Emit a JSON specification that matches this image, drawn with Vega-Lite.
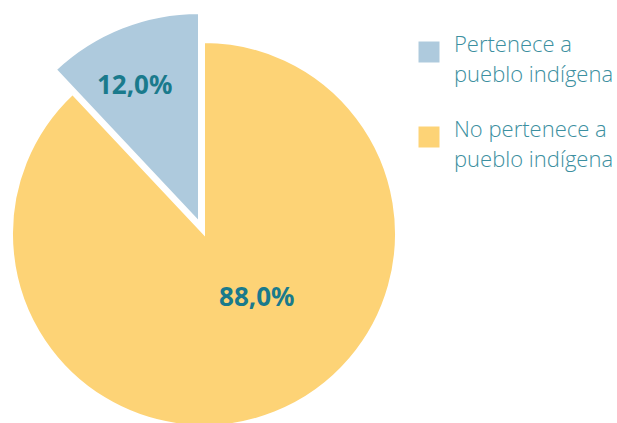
{
  "$schema": "https://vega.github.io/schema/vega-lite/v6.json",
  "width": 384,
  "height": 378,
  "autosize": {"type": "none"},
  "padding": {"left": 12, "top": 45, "right": 221, "bottom": 0},
  "background": "white",
  "config": {"view": {"stroke": null}, "style": {"guide-label": {"lineHeight": 30}}},
  "data": {
    "values": [
      {"grupo": "Pertenece a|pueblo indígena", "valor": 12, "etiqueta": "12,0%"},
      {"grupo": "No pertenece a|pueblo indígena", "valor": 88, "etiqueta": "88,0%"}
    ]
  },
  "layer": [
    {
      "transform": [
        {"stack": "valor", "groupby": [], "sort": [{"field": "valor", "order": "descending"}], "as": ["v0", "v1"]},
        {"filter": "datum.valor == 88"}
      ],
      "mark": {"type": "arc", "outerRadius": 192, "stroke": "white", "strokeWidth": 2},
      "encoding": {
        "theta": {"field": "v0", "type": "quantitative", "scale": {"domain": [0, 100]}},
        "theta2": {"field": "v1"},
        "color": {
          "field": "grupo",
          "type": "nominal",
          "scale": {"domain": ["Pertenece a|pueblo indígena", "No pertenece a|pueblo indígena"], "range": ["#AECADD", "#FDD376"]},
          "legend": {
            "orient": "none",
            "legendX": 406,
            "legendY": -4,
            "title": null,
            "symbolType": "square",
            "symbolSize": 441,
            "symbolStrokeWidth": 0,
            "symbolOpacity": 1,
            "labelFont": "Open Sans",
            "labelFontSize": 22,
            "labelFontWeight": 300,
            "labelColor": "#3C8FA0",
            "labelBaseline": "alphabetic",
            "labelOffset": 14,
            "labelLimit": 300,
            "labelExpr": "split(datum.label, '|')",
            "rowPadding": 33,
            "padding": 0
          }
        }
      }
    },
    {
      "transform": [
        {"stack": "valor", "groupby": [], "sort": [{"field": "valor", "order": "descending"}], "as": ["v0", "v1"]},
        {"filter": "datum.valor == 12"}
      ],
      "mark": {"type": "arc", "outerRadius": 209, "stroke": "white", "strokeWidth": 2, "xOffset": -5, "yOffset": -12},
      "encoding": {
        "theta": {"field": "v0", "type": "quantitative"},
        "theta2": {"field": "v1"},
        "color": {"field": "grupo", "type": "nominal"}
      }
    },
    {
      "mark": {"type": "text", "radius": 70, "dx": 27, "dy": -1, "font": "Noto Sans", "fontWeight": "bold", "fontSize": 26, "color": "#1A7A8C", "baseline": "middle", "align": "center"},
      "encoding": {
        "theta": {"field": "valor", "type": "quantitative", "stack": true},
        "order": {"field": "valor", "sort": "descending"},
        "text": {"condition": {"test": "datum.valor == 88", "field": "etiqueta"}, "value": ""}
      }
    },
    {
      "mark": {"type": "text", "radius": 164, "dx": -9, "dy": 4, "font": "Noto Sans", "fontWeight": "bold", "fontSize": 26, "color": "#1A7A8C", "baseline": "middle", "align": "center"},
      "encoding": {
        "theta": {"field": "valor", "type": "quantitative", "stack": true},
        "order": {"field": "valor", "sort": "descending"},
        "text": {"condition": {"test": "datum.valor == 12", "field": "etiqueta"}, "value": ""}
      }
    }
  ]
}
